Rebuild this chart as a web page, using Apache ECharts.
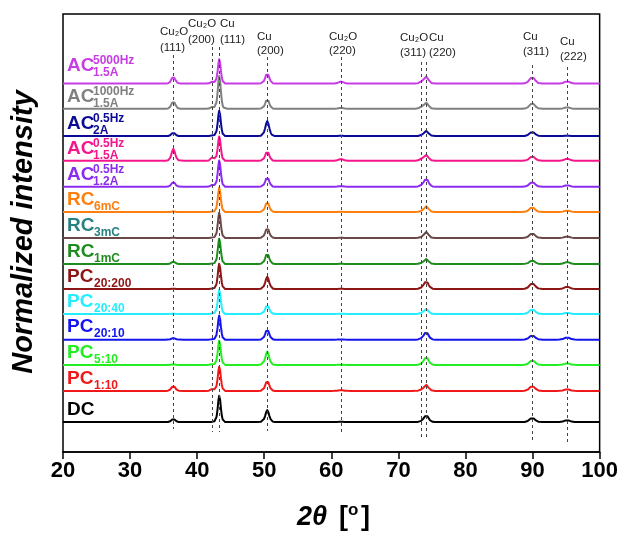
<!DOCTYPE html>
<html>
<head>
<meta charset="utf-8">
<script src="https://cdn.jsdelivr.net/npm/echarts@6/dist/echarts.min.js"></script>
<style>html,body{margin:0;padding:0;background:#fff;}#c{width:621px;height:535px;}</style>
</head>
<body>
<div id="c"></div>
<script>
// ---- data ----
const peakNames = ['Cu2O(111)','Cu2O(200)','Cu(111)','Cu(200)','Cu2O(220)','Cu2O(311)','Cu(220)','Cu(311)','Cu(222)'];
const peakPos   = [36.45, 42.3, 43.3, 50.45, 61.45, 73.45, 74.15, 89.95, 95.15];

const samples = ['DC','PC1:10','PC5:10','PC20:10','PC20:40','PC20:200','RC1mC','RC3mC','RC6mC','AC0.5Hz1.2A','AC0.5Hz1.5A','AC0.5Hz2A','AC1000Hz1.5A','AC5000Hz1.5A'];
const labelMain = ['DC','PC','PC','PC','PC','PC','RC','RC','RC','AC','AC','AC','AC','AC'];
const labelSub  = ['','1:10','5:10','20:10','20:40','20:200','1mC','3mC','6mC','1.2A','1.5A','2A','1.5A','1.5A'];
const labelSup  = ['','','','','','','','','','0.5Hz','0.5Hz','0.5Hz','1000Hz','5000Hz'];

// vertical offsets of each normalized pattern (stacked plot)
const offsets = [1.15, 2.35, 3.35, 4.32, 5.31, 6.27, 7.23, 8.23, 9.23, 10.2, 11.2, 12.15, 13.2, 14.17];

// normalized peak heights, order as peakNames
const hDC       = [0.12, 0.01, 1.04, 0.46, 0.02, 0.02, 0.27, 0.17, 0.08];
const hPC1_10   = [0.20, 0.08, 0.96, 0.40, 0.03, 0.03, 0.23, 0.19, 0.065];
const hPC5_10   = [0.02, 0.03, 0.96, 0.51, 0.01, 0.02, 0.31, 0.18, 0.06];
const hPC20_10  = [0.065,0.02, 0.96, 0.41, 0.01, 0.03, 0.30, 0.17, 0.09];
const hPC20_40  = [0.01, 0.02, 0.96, 0.35, 0.01, 0.02, 0.19, 0.19, 0.04];
const hPC20_200 = [0.01, 0.02, 1.00, 0.47, 0.01, 0.03, 0.30, 0.23, 0.09];
const hRC1      = [0.09, 0.02, 1.00, 0.42, 0.01, 0.02, 0.19, 0.14, 0.08];
const hRC3      = [0.01, 0.02, 1.00, 0.40, 0.01, 0.02, 0.23, 0.19, 0.06];
const hRC6      = [0.02, 0.02, 0.96, 0.40, 0.01, 0.02, 0.22, 0.19, 0.06];
const hAC12     = [0.19, 0.08, 1.04, 0.38, 0.03, 0.04, 0.32, 0.19, 0.06];
const hAC15     = [0.46, 0.15, 0.96, 0.38, 0.07, 0.06, 0.22, 0.18, 0.08];
const hAC2      = [0.13, 0.03, 1.00, 0.58, 0.02, 0.02, 0.20, 0.17, 0.02];
const hAC1000   = [0.30, 0.08, 1.30, 0.38, 0.04, 0.06, 0.23, 0.22, 0.06];
const hAC5000   = [0.27, 0.08, 0.96, 0.41, 0.08, 0.06, 0.26, 0.26, 0.09];
const heights = [hDC,hPC1_10,hPC5_10,hPC20_10,hPC20_40,hPC20_200,hRC1,hRC3,hRC6,hAC12,hAC15,hAC2,hAC1000,hAC5000];

const xTicks = [20,30,40,50,60,70,80,90,100];

// ---- styles ----
const peakHWHM  = [0.32, 0.28, 0.25, 0.33, 0.4, 0.36, 0.38, 0.45, 0.45];
const lineColors  = ['#000000','#f01818','#22ee22','#1414f0','#22eeff','#8c1515','#1e8c1e','#6b4848','#ff7f0e','#8b2cf0','#f5168c','#0a0a96','#808080','#c83ce6'];
const labelColors = ['#000000','#f01818','#22ee22','#1414f0','#22eeff','#8c1515','#1e8c1e','#2a8080','#ff7f0e','#8b2cf0','#f5168c','#0a0a96','#808080','#c83ce6'];
const UNIT = 26; // px per normalized unit
const GRID = {left:63, right:20, top:14, bottom:83};
const plotH = 535 - GRID.top - GRID.bottom;
const yMax = plotH / UNIT;

// peak profile shape, u in HWHM units
const profU = [0, 0.5, 1, 1.5, 2, 2.5, 3.5];
const profV = [1, 0.82, 0.5, 0.25, 0.1, 0.04, 0];
function prof(u){
  u = Math.abs(u);
  if (u >= profU[profU.length-1]) return 0;
  for (let i=1;i<profU.length;i++){
    if (u <= profU[i]) { const t=(u-profU[i-1])/(profU[i]-profU[i-1]); return profV[i-1]+t*(profV[i]-profV[i-1]); }
  }
  return 0;
}
// x positions: 0.5° baseline steps plus the profile nodes of each peak
let xs = [];
for (let x=20; x<=100; x+=0.5) xs.push(x);
peakPos.forEach((c,k)=>{ profU.forEach(u=>{ xs.push(c-u*peakHWHM[k]); xs.push(c+u*peakHWHM[k]); }); });
xs = Array.from(new Set(xs.map(v=>+v.toFixed(4)))).sort((a,b)=>a-b);

function buildSeries(i){
  const h = heights[i];
  return xs.map(x=>{
    let y = offsets[i];
    peakPos.forEach((c,k)=>{ y += h[k]*prof((x-c)/peakHWHM[k]); });
    return [x, y];
  });
}

// dashed reference lines: top / bottom pixel rows
const dashTopPx = [55, 47, 47, 57, 57, 62, 62, 65, 67];
const dashBotPx = [429, 432, 432, 431, 435, 437, 437, 442, 443];
const pxToY = p => (535 - GRID.bottom - p) / UNIT;

const series = samples.map((s,i)=>({
  name: s, type:'line', data: buildSeries(i), showSymbol:false, symbol:'none', smooth:false,
  lineStyle:{color: lineColors[i], width:2, join:'round'}, itemStyle:{color: lineColors[i]},
  z: 2, silent:true, animation:false
}));
series[0].markLine = {
  silent:true, symbol:'none', animation:false,
  lineStyle:{color:'#444', width:1, type:[3,3]},
  label:{show:false},
  data: peakPos.map((c,k)=>[{coord:[c, pxToY(dashTopPx[k])]},{coord:[c, pxToY(dashBotPx[k])]}])
};

const chart = echarts.init(document.getElementById('c'), null, {renderer:'canvas'});
chart.setOption({
  animation:false,
  backgroundColor:'#fff',
  grid:{left:GRID.left, right:GRID.right, top:GRID.top, bottom:GRID.bottom, show:true, borderColor:'#000', borderWidth:1.5, backgroundColor:'transparent'},
  xAxis:{type:'value', min:20, max:100, interval:10,
    axisLine:{show:true, lineStyle:{color:'#000', width:1.5}},
    axisTick:{show:true, inside:false, length:7, lineStyle:{color:'#000', width:1.5}},
    axisLabel:{color:'#000', fontSize:22, fontWeight:'bold', fontFamily:'"Liberation Sans Narrow","Arial Narrow","Liberation Sans",Arial,sans-serif', margin:8,
      formatter: v => xTicks.includes(v) ? String(v) : ''},
    splitLine:{show:false}},
  yAxis:{type:'value', min:0, max:yMax, show:true, axisLine:{show:false}, axisTick:{show:false}, axisLabel:{show:false}, splitLine:{show:false}},
  series: series
});

// ---- annotations ----
const F = '"Liberation Sans",Arial,sans-serif';
const g = [];
function txt(x,y,t,opt){ g.push(Object.assign({type:'text', x:x, y:y, silent:true, style:Object.assign({text:t, fill:'#222', font:'11.5px '+F, textAlign:'left', textVerticalAlign:'middle'}, opt||{})})); }
const ann = [
  [160,32,48,'Cu₂O','(111)'],
  [188,24,40,'Cu₂O','(200)'],
  [220,24,40,'Cu','(111)'],
  [257,37,51,'Cu','(200)'],
  [329,37,51,'Cu₂O','(220)'],
  [400,38,53,'Cu₂O','(311)'],
  [429,38,53,'Cu','(220)'],
  [523,37,52,'Cu','(311)'],
  [560,42,57,'Cu','(222)']
];
ann.forEach(a=>{ txt(a[0],a[1],a[3]); txt(a[0],a[2],a[4]); });

samples.forEach((s,i)=>{
  const base = chart.convertToPixel({yAxisIndex:0}, offsets[i]);
  const dy = (i===13) ? -18 : -12.5;
  const my = base + dy;
  const col = labelColors[i];
  txt(67, my, labelMain[i], {fill:col, font:'bold 19px '+F});
  if (labelSup[i]) {
    txt(93, my-5, labelSup[i], {fill:col, font:'bold 12px '+F});
    txt(93, my+7.5, labelSub[i], {fill:col, font:'bold 12px '+F});
  } else if (labelSub[i]) {
    txt(94, my+7, labelSub[i], {fill:col, font:'bold 12px '+F});
  }
});

g.push({type:'text', x:297, y:518, silent:true, style:{text:'2θ', fill:'#000', font:'italic bold 27px '+F, textAlign:'left', textVerticalAlign:'middle'}});
g.push({type:'text', x:339, y:518, silent:true, style:{text:'[', fill:'#000', font:'bold 27px '+F, textAlign:'left', textVerticalAlign:'middle'}});
g.push({type:'text', x:348, y:510, silent:true, style:{text:'o', fill:'#000', font:'bold 17px '+F, textAlign:'left', textVerticalAlign:'middle'}});
g.push({type:'text', x:361, y:518, silent:true, style:{text:']', fill:'#000', font:'bold 27px '+F, textAlign:'left', textVerticalAlign:'middle'}});
g.push({type:'text', x:24, y:232, rotation:Math.PI/2, silent:true, style:{text:'Normalized intensity', fill:'#000', font:'italic bold 29px '+F, textAlign:'center', textVerticalAlign:'middle'}});

chart.setOption({graphic: g});
</script>
</body>
</html>
